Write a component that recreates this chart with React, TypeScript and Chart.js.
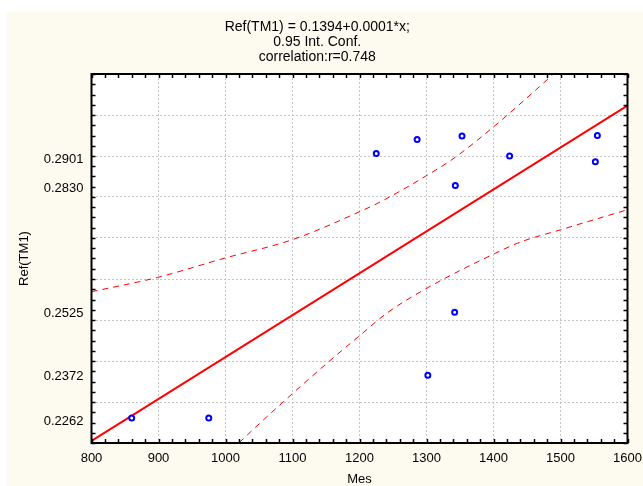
import React, { useEffect, useRef } from "react";
import { Chart, registerables } from "chart.js";

Chart.register(...registerables);

// ---- data ----
const titleLines = ["Ref(TM1) = 0.1394+0.0001*x;", "0.95 Int. Conf.", "correlation:r=0.748"];
const xTitle = "Mes";
const yTitle = "Ref(TM1)";

const pointX = [860, 975, 1225, 1286, 1353, 1343, 1424, 1555, 1552, 1342, 1302];
const pointY = [0.2261, 0.2261, 0.2906, 0.294, 0.2949, 0.2828, 0.29, 0.295, 0.2886, 0.2519, 0.2365];

const fitX = [800, 1600];
const fitY = [0.2205, 0.3023];

const upperX = [800, 899, 999, 1100, 1204, 1231, 1301, 1343, 1403, 1425, 1482, 1600];
const upperY = [0.2569, 0.2604, 0.2651, 0.2696, 0.2767, 0.2788, 0.2853, 0.2897, 0.2975, 0.3006, 0.3089, 0.327];

const lowerX = [800, 900, 1000, 1020, 1084, 1151, 1204, 1241, 1301, 1403, 1440, 1500, 1600];
const lowerY = [0.184, 0.201, 0.2167, 0.22, 0.2297, 0.2394, 0.2467, 0.2517, 0.2578, 0.2663, 0.269, 0.272, 0.2769];

const xTicks = [800, 900, 1000, 1100, 1200, 1300, 1400, 1500, 1600];
const yGridTicks = [0.22, 0.23, 0.24, 0.25, 0.26, 0.27, 0.28, 0.29, 0.3, 0.31];
const yLabelTicks = [0.2262, 0.2372, 0.2525, 0.283, 0.2901];

const xMin = 800, xMax = 1600, yMin = 0.22, yMax = 0.31;
const xMinorStep = 20;
const yMinorStep = 0.0025;

const CREAM = "#FDFAEF";
const FONT = '"Liberation Sans", Arial, sans-serif';

const toXY = (xs: number[], ys: number[]) => xs.map((x, i) => ({ x, y: ys[i] }));

const isGridValue = (v: number) => yGridTicks.some((g) => Math.abs(g - v) < 1e-9);
const isLabelValue = (v: number) => yLabelTicks.some((g) => Math.abs(g - v) < 1e-9);

const framePlugin = {
  id: "frameDecor",
  beforeDraw(chart: any) {
    const { ctx, width, height, chartArea: a } = chart;
    ctx.save();
    ctx.fillStyle = CREAM;
    ctx.fillRect(0, 0, width, height);
    ctx.fillStyle = "#ffffff";
    ctx.fillRect(a.left, a.top, a.right - a.left, a.bottom - a.top);
    ctx.restore();
  },
  afterDraw(chart: any) {
    const { ctx, chartArea: a, scales } = chart;
    const xs = scales.x;
    const ys = scales.y;
    ctx.save();
    ctx.strokeStyle = "#000";
    ctx.lineWidth = 1.5;
    ctx.beginPath();
    for (let v = xMin; v <= xMax + 1e-6; v += xMinorStep) {
      const px = Math.round(xs.getPixelForValue(v)) + 0.5;
      ctx.moveTo(px, a.bottom);
      ctx.lineTo(px, a.bottom - 4);
      ctx.moveTo(px, a.top);
      ctx.lineTo(px, a.top + 4);
    }
    const n = Math.round((yMax - yMin) / yMinorStep);
    for (let i = 0; i <= n; i++) {
      const v = yMin + i * yMinorStep;
      const py = Math.round(ys.getPixelForValue(v)) + 0.5;
      ctx.moveTo(a.left, py);
      ctx.lineTo(a.left + 4, py);
      ctx.moveTo(a.right, py);
      ctx.lineTo(a.right - 4, py);
    }
    ctx.stroke();
    ctx.lineWidth = 2;
    ctx.strokeRect(a.left, a.top, a.right - a.left, a.bottom - a.top);
    ctx.restore();
  },
};

export default function App() {
  const canvasRef = useRef<HTMLCanvasElement | null>(null);

  useEffect(() => {
    if (!canvasRef.current) return;
    const chart = new Chart(canvasRef.current, {
      type: "scatter",
      data: {
        datasets: [
          {
            type: "scatter",
            data: toXY(pointX, pointY),
            pointStyle: "circle",
            pointRadius: 2.5,
            pointBorderWidth: 2,
            pointBorderColor: "#0000ff",
            pointBackgroundColor: "#ffffff",
            order: 0,
          } as any,
          {
            type: "line",
            data: toXY(fitX, fitY),
            borderColor: "#ff0000",
            borderWidth: 2,
            pointRadius: 0,
            fill: false,
            order: 1,
          },
          {
            type: "line",
            data: toXY(upperX, upperY),
            borderColor: "#ff0000",
            borderWidth: 1,
            borderDash: [6, 5],
            pointRadius: 0,
            cubicInterpolationMode: "monotone",
            fill: false,
            order: 2,
          },
          {
            type: "line",
            data: toXY(lowerX, lowerY),
            borderColor: "#ff0000",
            borderWidth: 1,
            borderDash: [6, 5],
            pointRadius: 0,
            cubicInterpolationMode: "monotone",
            fill: false,
            order: 3,
          },
        ],
      },
      options: {
        animation: false,
        responsive: true,
        maintainAspectRatio: false,
        layout: { padding: { left: 0, right: 15.5, top: 0, bottom: 0 } },
        plugins: {
          legend: { display: false },
          tooltip: { enabled: false },
          title: {
            display: true,
            text: titleLines,
            color: "#000",
            font: { family: FONT, size: 14, weight: "normal", lineHeight: "15px" },
            padding: { top: 8, bottom: 9 },
          },
        },
        scales: {
          x: {
            type: "linear",
            min: xMin,
            max: xMax,
            afterBuildTicks: (scale: any) => {
              scale.ticks = xTicks.map((v) => ({ value: v }));
            },
            afterFit: (scale: any) => {
              scale.height = 43;
              scale.paddingLeft = 0;
              scale.paddingRight = 0;
            },
            grid: { color: "#c4c4c4", lineWidth: 1, drawTicks: false },
            border: { display: false, dash: [2, 2] },
            ticks: {
              color: "#000",
              font: { family: FONT, size: 13 },
              padding: 8,
              maxRotation: 0,
              autoSkip: false,
              callback: (v: any) => String(v),
            },
            title: {
              display: true,
              text: xTitle,
              color: "#000",
              font: { family: FONT, size: 13, lineHeight: 1 },
              padding: { top: 0, bottom: 0 },
            },
          },
          y: {
            type: "linear",
            min: yMin,
            max: yMax,
            afterBuildTicks: (scale: any) => {
              const vals = [...yGridTicks, ...yLabelTicks].sort((a, b) => a - b);
              scale.ticks = vals.map((v) => ({ value: v }));
            },
            afterFit: (scale: any) => {
              scale.width = 84.5;
              scale.paddingTop = 0;
              scale.paddingBottom = 0;
            },
            grid: {
              color: (ctx: any) => (ctx.tick && isGridValue(ctx.tick.value) ? "#c4c4c4" : "rgba(0,0,0,0)"),
              lineWidth: 1,
              drawTicks: false,
            },
            border: { display: false, dash: [2, 2] },
            ticks: {
              color: "#000",
              font: { family: FONT, size: 13 },
              padding: 8,
              labelOffset: 4,
              autoSkip: false,
              callback: (v: any) => (isLabelValue(Number(v)) ? Number(v).toFixed(4) : ""),
            },
            title: {
              display: true,
              text: yTitle,
              color: "#000",
              font: { family: FONT, size: 13, lineHeight: 1.2 },
              padding: { top: 10, bottom: 0 },
            },
          },
        },
      },
      plugins: [framePlugin],
    });
    return () => chart.destroy();
  }, []);

  return (
    <div style={{ position: "fixed", left: 7, top: 12, width: 636, height: 474 }}>
      <canvas ref={canvasRef} />
    </div>
  );
}
